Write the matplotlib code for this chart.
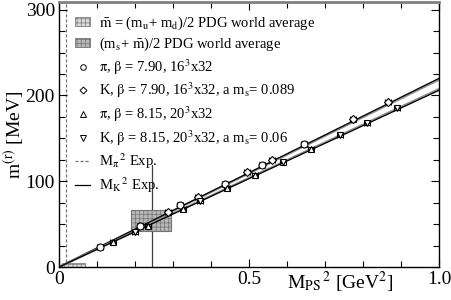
import matplotlib
matplotlib.use("Agg")
import matplotlib.pyplot as plt
import numpy as np
from matplotlib.patches import Rectangle
from matplotlib.lines import Line2D

plt.rcParams['font.family'] = 'serif'
plt.rcParams['font.serif'] = ['Liberation Serif', 'DejaVu Serif']
plt.rcParams['mathtext.fontset'] = 'stix'
plt.rcParams['hatch.linewidth'] = 0.5

# data (x in GeV^2, y in MeV)
pi_790_x = [0.108, 0.213, 0.318, 0.437, 0.534, 0.645]
pi_790_y = [23, 48, 72, 97, 119, 143]
K_790_x = [0.287, 0.366, 0.495, 0.560, 0.774, 0.866]
K_790_y = [64, 82, 111, 125, 172, 192]
pi_815_x = [0.142, 0.234, 0.327, 0.442, 0.516, 0.663]
pi_815_y = [29, 48, 68, 92, 107, 138]
K_815_x = [0.200, 0.371, 0.590, 0.740, 0.810, 0.890]
K_815_y = [41, 77, 122, 154, 168, 185]

# chiral fits, value at M_PS^2 = 0 and 1 GeV^2
fit_790 = [0.0, 220.0]
fit_790_b = [0.0, 218.5]
fit_815 = [0.0, 206.0]
fit_815_b = [0.0, 207.5]

# PDG boxes: (x0, x1, y0, y1)
mbar_box = [0.008, 0.068, 0.0, 5.0]
ms_box = [0.19, 0.295, 42.0, 67.0]

mpi2_exp = 0.0182
mk2_exp = 0.244

fig = plt.figure(figsize=(4.52, 3.0), dpi=100)
ax = fig.add_axes([59/452, 1-267/300, 380/452, 265/300])

ax.axvline(mpi2_exp, color='0.45', ls=(0, (2.5, 1.5)), lw=0.9, zorder=1)
ax.plot([mk2_exp, mk2_exp], [0, 119], color='0.25', lw=0.9, zorder=1)

ax.add_patch(Rectangle((mbar_box[0], mbar_box[2]), mbar_box[1]-mbar_box[0], mbar_box[3]-mbar_box[2],
                       facecolor='0.85', edgecolor='0.5', hatch='++++', lw=0.6, zorder=1))
ax.add_patch(Rectangle((ms_box[0], ms_box[2]), ms_box[1]-ms_box[0], ms_box[3]-ms_box[2],
                       facecolor='0.72', edgecolor='0.45', hatch='++++', lw=0.8, zorder=1))

xx = [0.0, 1.0]
ax.plot(xx, fit_790_b, color='0.55', lw=1.6, zorder=2)
ax.plot(xx, fit_790, color='k', lw=0.9, zorder=2)
ax.plot(xx, fit_815_b, color='0.55', lw=1.6, zorder=2)
ax.plot(xx, fit_815, color='k', lw=0.9, zorder=2)

mk = dict(ls='none', mfc='white', mec='k', mew=0.8, ms=5, ecolor='k',
          elinewidth=0.7, capsize=2, capthick=0.7, zorder=3)
ax.errorbar(pi_790_x, pi_790_y, xerr=0.008, yerr=2.5, marker='o', **mk)
ax.errorbar(K_790_x, K_790_y, xerr=0.008, yerr=2.5, marker='D', **dict(mk, ms=4))
ax.errorbar(pi_815_x, pi_815_y, xerr=0.008, yerr=2.5, marker='^', **mk)
ax.errorbar(K_815_x, K_815_y, xerr=0.008, yerr=2.5, marker='v', **mk)

ax.set_xlim(0, 1.0)
ax.set_ylim(0, 309)
ax.set_xticks([0, 0.5, 1.0])
ax.set_xticklabels(['0', '0.5', '1.0'])
ax.set_xticks(np.arange(0, 1.01, 0.1), minor=True)
ax.set_yticks([0, 100, 200, 300])
ax.set_yticks(np.arange(0, 301, 25), minor=True)
ax.tick_params(which='both', direction='in', top=True, right=True, labelsize=14, width=0.8)
ax.tick_params(which='major', length=6, pad=3)
ax.tick_params(which='minor', length=4)
for s in ax.spines.values():
    s.set_linewidth(1.0)
ax.spines['top'].set_color('0.5')
ax.spines['top'].set_linewidth(2)

ax.set_ylabel(r'm$^{\mathrm{(r)}}$ [MeV]', fontsize=14)
ax.yaxis.set_label_coords(-0.088, 0.5)
ax.text(0.74, -0.06, r'M$_{\mathrm{PS}}$$^{\,2}$ [GeV$^2$]', transform=ax.transAxes,
        fontsize=14, ha='center', va='center')

handles = [
    Rectangle((0, 0), 1, 1, facecolor='0.85', edgecolor='0.5', hatch='++++', lw=0.6),
    Rectangle((0, 0), 1, 1, facecolor='0.72', edgecolor='0.45', hatch='++++', lw=0.6),
    Line2D([], [], ls='none', marker='o', mfc='white', mec='k', ms=4, mew=0.7),
    Line2D([], [], ls='none', marker='D', mfc='white', mec='k', ms=3.5, mew=0.7),
    Line2D([], [], ls='none', marker='^', mfc='white', mec='k', ms=4, mew=0.7),
    Line2D([], [], ls='none', marker='v', mfc='white', mec='k', ms=4, mew=0.7),
    Line2D([], [], color='0.45', ls=(0, (2.5, 1.5)), lw=0.9),
    Line2D([], [], color='k', lw=0.9),
]
labels = [
    r'$\bar{\mathrm{m}}$ = (m$_\mathrm{u}$+ m$_\mathrm{d}$)/2 PDG world average',
    r'(m$_\mathrm{s}$+ $\bar{\mathrm{m}}$)/2 PDG world average',
    r'$\mathrm{\pi}$, $\mathrm{\beta}$ = 7.90, 16$^3$x32',
    r'K, $\mathrm{\beta}$ = 7.90, 16$^3$x32, a m$_\mathrm{s}$= 0.089',
    r'$\mathrm{\pi}$, $\mathrm{\beta}$ = 8.15, 20$^3$x32',
    r'K, $\mathrm{\beta}$ = 8.15, 20$^3$x32, a m$_\mathrm{s}$= 0.06',
    r'M$_\mathrm{\pi}$$^{\,2}$ Exp.',
    r'M$_\mathrm{K}$$^{\,2}$ Exp.',
]
leg = ax.legend(handles, labels, loc='upper left', bbox_to_anchor=(0.035, 0.965),
                fontsize=10.5, frameon=False, handlelength=1.0, handleheight=0.6,
                handletextpad=0.6, labelspacing=0.28, borderpad=0.2, borderaxespad=0)

fig.savefig('out.png', dpi=100)
